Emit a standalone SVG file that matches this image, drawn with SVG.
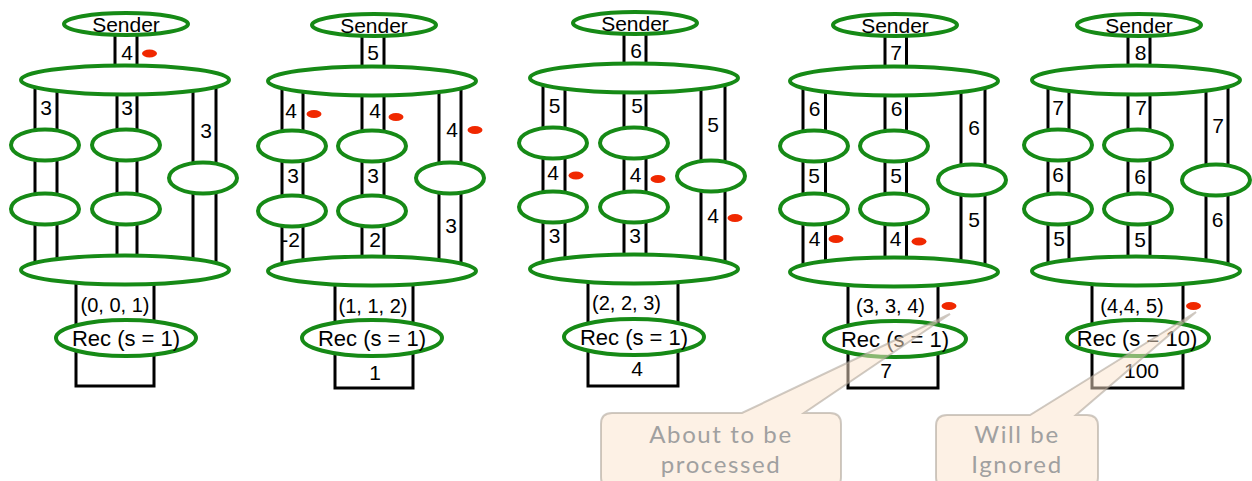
<svg xmlns="http://www.w3.org/2000/svg" width="1252" height="481" viewBox="0 0 1252 481">
  <style>
    .wire { fill: none; stroke: #000; stroke-width: 3; }
    .node ellipse { fill: #fff; stroke: #168a16; stroke-width: 4; }
    text { font-family: "Liberation Sans", Arial, sans-serif; fill: #000; text-anchor: middle; }
    .name { font-size: 21px; }
    .rec { font-size: 22px; }
    .num { font-size: 21px; }
    .tup { font-size: 20px; }
    .tok { fill: #f02800; }
    .call path { fill: #fbe3cc; fill-opacity: 0.5; stroke: #a89e94; stroke-opacity: 0.55; stroke-width: 2; }
    .call text { font-family: Lato, "Open Sans", sans-serif; font-size: 24px; letter-spacing: 1.6px; fill: #a0a0a0; }
  </style>

  <!-- ===== Step 1 ===== -->
  <g id="p1">
    <g id="p1-connectors" class="wire">
      <path d="M115 24V80M137 24V80"/>
      <path d="M35 80V270M57 80V270"/>
      <path d="M117 80V270M137 80V270"/>
      <path d="M193 80V270M216 80V270"/>
      <path d="M76 270V386H154V270"/>
    </g>
    <g id="p1-sender" class="node"><ellipse cx="126" cy="24" rx="62" ry="11"/><text class="name" x="126" y="32">Sender</text></g>
    <g id="p1-top" class="node"><ellipse cx="125" cy="80" rx="104" ry="14.5"/></g>
    <g id="p1-a1" class="node"><ellipse cx="45" cy="145" rx="34" ry="15.5"/></g>
    <g id="p1-b1" class="node"><ellipse cx="126" cy="145" rx="34" ry="15.5"/></g>
    <g id="p1-c1" class="node"><ellipse cx="203" cy="178" rx="34" ry="15.5"/></g>
    <g id="p1-a2" class="node"><ellipse cx="45" cy="209" rx="34" ry="15.5"/></g>
    <g id="p1-b2" class="node"><ellipse cx="126" cy="209" rx="34" ry="15.5"/></g>
    <g id="p1-bottom" class="node"><ellipse cx="125" cy="270" rx="104" ry="14.5"/></g>
    <g id="p1-rec" class="node"><ellipse cx="126" cy="338" rx="70" ry="18"/><text class="rec" x="126" y="346">Rec (s = 1)</text></g>
    <g id="p1-labels">
      <text class="num" x="127" y="60">4</text>
      <text class="num" x="46" y="115">3</text>
      <text class="num" x="127" y="115">3</text>
      <text class="num" x="206" y="138">3</text>
      <text class="tup" x="115" y="312">(0, 0, 1)</text>
    </g>
    <g id="p1-tokens" class="tok"><ellipse cx="149.5" cy="53.5" rx="7.5" ry="4"/></g>
  </g>

  <!-- ===== Step 2 ===== -->
  <g id="p2">
    <g id="p2-connectors" class="wire">
      <path d="M362 25V81M384 25V81"/>
      <path d="M282 81V271M303 81V271"/>
      <path d="M362 81V271M384 81V271"/>
      <path d="M439 81V271M461 81V271"/>
      <path d="M335 271V388H413V271"/>
    </g>
    <g id="p2-sender" class="node"><ellipse cx="374" cy="25" rx="62" ry="11"/><text class="name" x="374" y="33">Sender</text></g>
    <g id="p2-top" class="node"><ellipse cx="372" cy="81" rx="104" ry="14.5"/></g>
    <g id="p2-a1" class="node"><ellipse cx="292" cy="146" rx="34" ry="15.5"/></g>
    <g id="p2-b1" class="node"><ellipse cx="372" cy="146" rx="34" ry="15.5"/></g>
    <g id="p2-c1" class="node"><ellipse cx="450" cy="178" rx="34" ry="15.5"/></g>
    <g id="p2-a2" class="node"><ellipse cx="292" cy="211" rx="34" ry="15.5"/></g>
    <g id="p2-b2" class="node"><ellipse cx="372" cy="211" rx="34" ry="15.5"/></g>
    <g id="p2-bottom" class="node"><ellipse cx="372" cy="271" rx="104" ry="14.5"/></g>
    <g id="p2-rec" class="node"><ellipse cx="372" cy="338" rx="70" ry="18"/><text class="rec" x="372" y="346">Rec (s = 1)</text></g>
    <g id="p2-labels">
      <text class="num" x="373" y="60">5</text>
      <text class="num" x="291" y="118">4</text>
      <text class="num" x="375" y="118">4</text>
      <text class="num" x="452" y="137">4</text>
      <text class="num" x="293" y="183">3</text>
      <text class="num" x="373" y="183">3</text>
      <text class="num" x="290.5" y="247">-2</text>
      <text class="num" x="375" y="247">2</text>
      <text class="num" x="451" y="233">3</text>
      <text class="tup" x="373" y="313">(1, 1, 2)</text>
      <text class="num" x="375" y="380">1</text>
    </g>
    <g id="p2-tokens" class="tok">
      <ellipse cx="314" cy="114" rx="7.5" ry="4"/>
      <ellipse cx="396" cy="117" rx="7.5" ry="4"/>
      <ellipse cx="475" cy="130" rx="7.5" ry="4"/>
    </g>
  </g>

  <!-- ===== Step 3 ===== -->
  <g id="p3">
    <g id="p3-connectors" class="wire">
      <path d="M624 23V78M646 23V78"/>
      <path d="M543 78V269M565 78V269"/>
      <path d="M624 78V269M646 78V269"/>
      <path d="M701 78V269M725 78V269"/>
      <path d="M588 269V386H678V269"/>
    </g>
    <g id="p3-sender" class="node"><ellipse cx="635" cy="23" rx="62" ry="11"/><text class="name" x="635" y="31">Sender</text></g>
    <g id="p3-top" class="node"><ellipse cx="634" cy="78" rx="104" ry="14.5"/></g>
    <g id="p3-a1" class="node"><ellipse cx="553" cy="143" rx="34" ry="15.5"/></g>
    <g id="p3-b1" class="node"><ellipse cx="634" cy="143" rx="34" ry="15.5"/></g>
    <g id="p3-c1" class="node"><ellipse cx="711" cy="176" rx="34" ry="15.5"/></g>
    <g id="p3-a2" class="node"><ellipse cx="553" cy="207" rx="34" ry="15.5"/></g>
    <g id="p3-b2" class="node"><ellipse cx="634" cy="207" rx="34" ry="15.5"/></g>
    <g id="p3-bottom" class="node"><ellipse cx="634" cy="269" rx="104" ry="14.5"/></g>
    <g id="p3-rec" class="node"><ellipse cx="634" cy="337" rx="70" ry="18"/><text class="rec" x="634" y="345">Rec (s = 1)</text></g>
    <g id="p3-labels">
      <text class="num" x="636" y="58">6</text>
      <text class="num" x="554.5" y="113">5</text>
      <text class="num" x="637" y="113">5</text>
      <text class="num" x="713" y="132">5</text>
      <text class="num" x="553" y="180">4</text>
      <text class="num" x="635.5" y="182">4</text>
      <text class="num" x="713" y="223">4</text>
      <text class="num" x="554.5" y="243">3</text>
      <text class="num" x="635" y="243">3</text>
      <text class="tup" x="626.5" y="310">(2, 2, 3)</text>
      <text class="num" x="637" y="376">4</text>
    </g>
    <g id="p3-tokens" class="tok">
      <ellipse cx="576" cy="175.5" rx="7.5" ry="4"/>
      <ellipse cx="658" cy="179" rx="7.5" ry="4"/>
      <ellipse cx="735" cy="218" rx="7.5" ry="4"/>
    </g>
  </g>

  <!-- ===== Step 4 ===== -->
  <g id="p4">
    <g id="p4-connectors" class="wire">
      <path d="M885 25V81M906.5 25V81"/>
      <path d="M803 81V272M825.5 81V272"/>
      <path d="M885 81V272M906.5 81V272"/>
      <path d="M961 81V272M985 81V272"/>
      <path d="M848 272V388H938V272"/>
    </g>
    <g id="p4-sender" class="node"><ellipse cx="895" cy="25" rx="62" ry="11"/><text class="name" x="895" y="33">Sender</text></g>
    <g id="p4-top" class="node"><ellipse cx="894" cy="81" rx="104" ry="14.5"/></g>
    <g id="p4-a1" class="node"><ellipse cx="814" cy="146" rx="34" ry="15.5"/></g>
    <g id="p4-b1" class="node"><ellipse cx="894" cy="146" rx="34" ry="15.5"/></g>
    <g id="p4-c1" class="node"><ellipse cx="972" cy="180" rx="34" ry="15.5"/></g>
    <g id="p4-a2" class="node"><ellipse cx="814" cy="209" rx="34" ry="15.5"/></g>
    <g id="p4-b2" class="node"><ellipse cx="894" cy="209" rx="34" ry="15.5"/></g>
    <g id="p4-bottom" class="node"><ellipse cx="894" cy="272" rx="104" ry="14.5"/></g>
    <g id="p4-rec" class="node"><ellipse cx="895" cy="339" rx="71" ry="18"/><text class="rec" x="895" y="347">Rec (s = 1)</text></g>
    <g id="p4-labels">
      <text class="num" x="896" y="60">7</text>
      <text class="num" x="814.5" y="116">6</text>
      <text class="num" x="896.5" y="116">6</text>
      <text class="num" x="974" y="135">6</text>
      <text class="num" x="814" y="183">5</text>
      <text class="num" x="896" y="183">5</text>
      <text class="num" x="974" y="227">5</text>
      <text class="num" x="814.5" y="246">4</text>
      <text class="num" x="895.5" y="246">4</text>
      <text class="tup" x="890.5" y="313">(3, 3, 4)</text>
      <text class="num" x="886" y="378">7</text>
    </g>
    <g id="p4-tokens" class="tok">
      <ellipse cx="836" cy="239" rx="7.5" ry="4"/>
      <ellipse cx="919" cy="241.5" rx="7.5" ry="4"/>
      <ellipse cx="949" cy="306" rx="7.5" ry="4"/>
    </g>
  </g>

  <!-- ===== Step 5 ===== -->
  <g id="p5">
    <g id="p5-connectors" class="wire">
      <path d="M1128 25V80M1150 25V80"/>
      <path d="M1048 80V271M1069 80V271"/>
      <path d="M1128 80V271M1150 80V271"/>
      <path d="M1206 80V271M1228 80V271"/>
      <path d="M1092 271V388H1183V271"/>
    </g>
    <g id="p5-sender" class="node"><ellipse cx="1139" cy="25" rx="62" ry="11"/><text class="name" x="1139" y="33">Sender</text></g>
    <g id="p5-top" class="node"><ellipse cx="1136" cy="80" rx="104" ry="14.5"/></g>
    <g id="p5-a1" class="node"><ellipse cx="1058" cy="145" rx="34" ry="15.5"/></g>
    <g id="p5-b1" class="node"><ellipse cx="1138" cy="145" rx="34" ry="15.5"/></g>
    <g id="p5-c1" class="node"><ellipse cx="1216" cy="180" rx="34" ry="15.5"/></g>
    <g id="p5-a2" class="node"><ellipse cx="1058" cy="209" rx="34" ry="15.5"/></g>
    <g id="p5-b2" class="node"><ellipse cx="1138" cy="209" rx="34" ry="15.5"/></g>
    <g id="p5-bottom" class="node"><ellipse cx="1136" cy="271" rx="104" ry="14.5"/></g>
    <g id="p5-rec" class="node"><ellipse cx="1138" cy="338" rx="71" ry="18"/><text class="rec" x="1137" y="346">Rec (s = 10)</text></g>
    <g id="p5-labels">
      <text class="num" x="1140.5" y="60">8</text>
      <text class="num" x="1058" y="115">7</text>
      <text class="num" x="1141" y="115">7</text>
      <text class="num" x="1218" y="133">7</text>
      <text class="num" x="1058" y="182">6</text>
      <text class="num" x="1140" y="184">6</text>
      <text class="num" x="1217.5" y="227">6</text>
      <text class="num" x="1059" y="246">5</text>
      <text class="num" x="1140" y="247">5</text>
      <text class="tup" x="1132" y="313">(4,4, 5)</text>
      <text class="num" x="1141.5" y="378">100</text>
    </g>
    <g id="p5-tokens" class="tok"><ellipse cx="1193.5" cy="306" rx="7.5" ry="4"/></g>
  </g>

  <!-- ===== Callouts ===== -->
  <g id="callout-processed" class="call">
    <path d="M612 413H742L950 314L804 413H830Q841 413 841 424V477Q841 488 830 488H612Q601 488 601 477V424Q601 413 612 413Z"/>
    <text x="721" y="443">About to be</text>
    <text x="721" y="473">processed</text>
  </g>
  <g id="callout-ignored" class="call">
    <path d="M947 415H1030L1196 312L1076 415H1087Q1098 415 1098 426V477Q1098 488 1087 488H947Q936 488 936 477V426Q936 415 947 415Z"/>
    <text x="1017" y="443">Will be</text>
    <text x="1017" y="473">Ignored</text>
  </g>
</svg>
